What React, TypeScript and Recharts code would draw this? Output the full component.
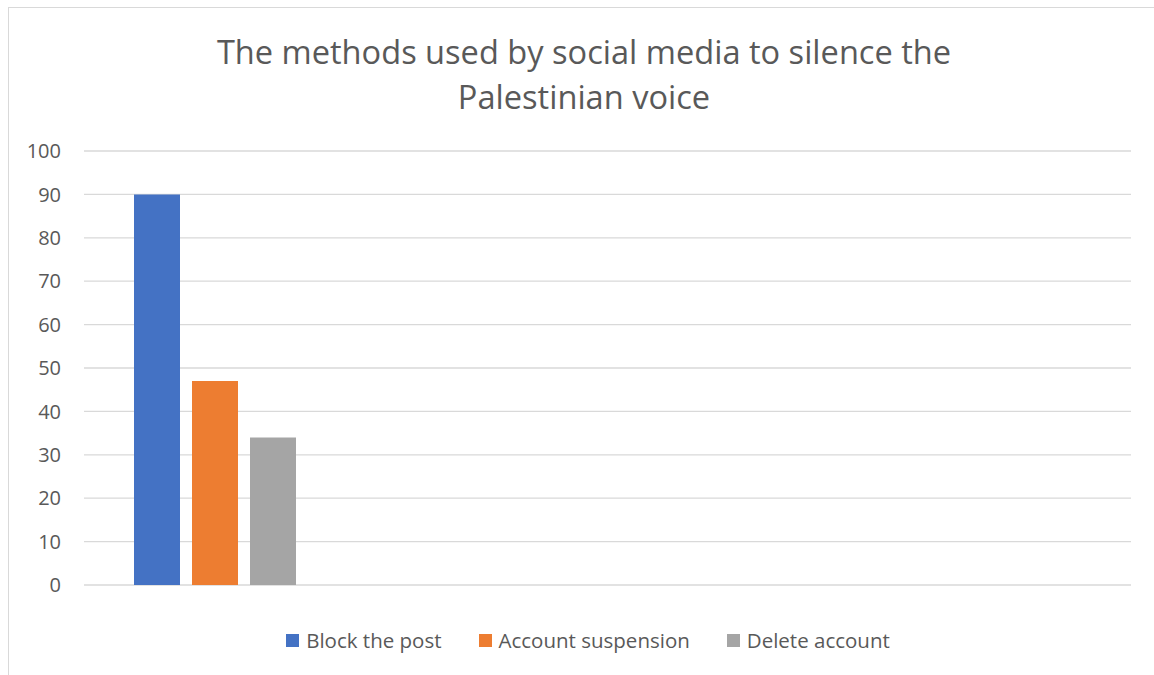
import React from "react";
import { BarChart, Bar, XAxis, YAxis, CartesianGrid, Legend } from "recharts";

const categories = ["1", "2", "3", "4"];
const blockThePost = [90, null, null, null];
const accountSuspension = [47, null, null, null];
const deleteAccount = [34, null, null, null];
const yTicks = [0, 10, 20, 30, 40, 50, 60, 70, 80, 90, 100];
const titleLines = ["The methods used by social media to silence the", "Palestinian voice"];

const seriesNames = ["Block the post", "Account suspension", "Delete account"];
const colors = ["#4472C4", "#ED7D31", "#A5A5A5"];

const data = categories.map((c, i) => ({
  cat: c,
  block: blockThePost[i],
  susp: accountSuspension[i],
  del: deleteAccount[i],
}));

const FONT = "'Open Sans', sans-serif";
const TEXT = "#595959";

const LegendContent = () => (
  <div style={{ display: "flex", justifyContent: "center", fontFamily: FONT, fontSize: 20.5, color: TEXT, lineHeight: "28px" }}>
    {seriesNames.map((n, i) => (
      <div key={n} style={{ display: "flex", alignItems: "center", marginRight: i < 2 ? 37 : 0 }}>
        <span style={{ width: 13, height: 13, background: colors[i], display: "inline-block", marginRight: 7 }} />
        <span>{n}</span>
      </div>
    ))}
  </div>
);

export default function App() {
  return (
    <div style={{ position: "absolute", left: 0, top: 0, width: 1154, height: 675, overflow: "hidden", background: "#fff" }}>
      <div
        style={{
          position: "absolute",
          left: 8,
          top: 7,
          width: 1300,
          height: 800,
          borderLeft: "1.5px solid #d9d9d9",
          borderTop: "1.5px solid #d9d9d9",
        }}
      />
      <div
        style={{
          position: "absolute",
          left: 0,
          width: 1168,
          top: 29,
          textAlign: "center",
          fontFamily: FONT,
          fontSize: 32.6,
          lineHeight: "45px",
          color: TEXT,
        }}
      >
        {titleLines.map((l) => (
          <div key={l}>{l}</div>
        ))}
      </div>
      <div style={{ position: "absolute", left: 0, top: 0 }}>
        <BarChart
          width={1154}
          height={675}
          data={data}
          margin={{ top: 151, right: 23, left: 24, bottom: 62 }}
          barSize={46}
          barGap={12}
        >
          <CartesianGrid vertical={false} stroke="#d9d9d9" strokeWidth={1.3} />
          <XAxis dataKey="cat" hide />
          <YAxis
            domain={[0, 100]}
            ticks={yTicks}
            width={60}
            axisLine={false}
            tickLine={false}
            tickSize={0}
            tickMargin={23}
            tick={{ fill: TEXT, fontSize: 20, fontFamily: FONT }}
            interval={0}
          />
          <Legend
            verticalAlign="bottom"
            content={<LegendContent />}
            wrapperStyle={{ top: 626, left: 0, width: 1176 }}
          />
          <Bar dataKey="block" name={seriesNames[0]} fill={colors[0]} isAnimationActive={false} />
          <Bar dataKey="susp" name={seriesNames[1]} fill={colors[1]} isAnimationActive={false} />
          <Bar dataKey="del" name={seriesNames[2]} fill={colors[2]} isAnimationActive={false} />
        </BarChart>
      </div>
    </div>
  );
}
